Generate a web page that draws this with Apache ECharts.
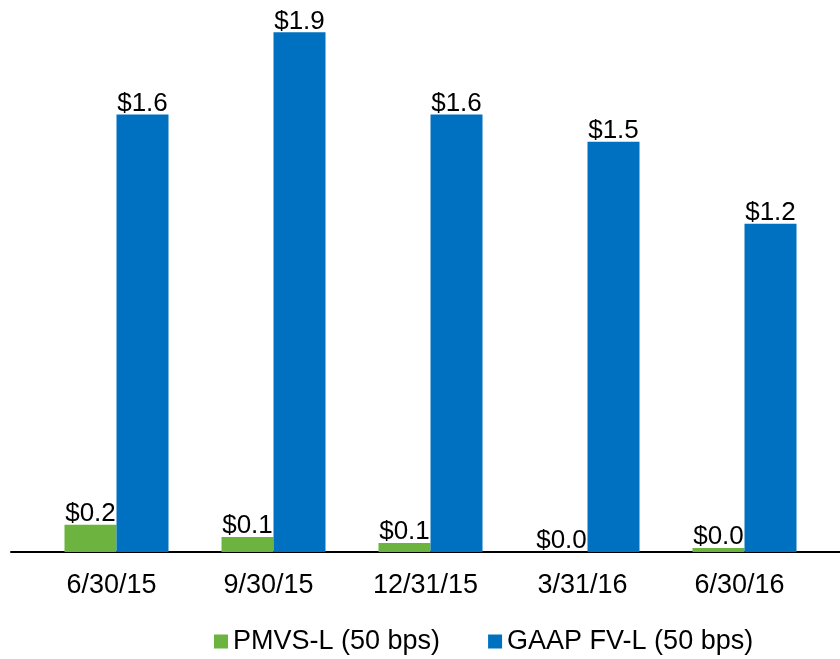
<!DOCTYPE html>
<html>
<head>
<meta charset="utf-8">
<script src="https://cdn.jsdelivr.net/npm/echarts@6/dist/echarts.min.js"></script>
<style>
  html, body { margin: 0; padding: 0; background: #fff; }
  #chart { width: 840px; height: 659px; }
</style>
</head>
<body>
<div id="chart"></div>
<script>
// categories / values
var periods = ["6/30/15", "9/30/15", "12/31/15", "3/31/16", "6/30/16"];
var pmvsValues = [0.10, 0.055, 0.033, 0, 0.015];
var gaapValues = [1.6, 1.9, 1.6, 1.5, 1.2];
// data labels as printed on the chart
var pmvsLabels = ["$0.2", "$0.1", "$0.1", "$0.0", "$0.0"];
var gaapLabels = ["$1.6", "$1.9", "$1.6", "$1.5", "$1.2"];

var font = "Liberation Sans, Arial, sans-serif";

var myChart = echarts.init(document.getElementById("chart"));

var labelStyle = {
  show: true,
  position: "top",
  distance: -2,
  color: "#000",
  fontSize: 26,
  fontFamily: font
};

var option = {
  animation: false,
  legend: {
    top: 628,
    left: 214,
    padding: 0,
    itemWidth: 14,
    itemHeight: 14,
    itemGap: 48,
    icon: "rect",
    textStyle: { color: "#000", fontSize: 27, fontFamily: font },
    data: ["PMVS-L (50 bps)", "GAAP FV-L (50 bps)"]
  },
  grid: [
    // bars
    { left: 38, right: 17, top: 5, bottom: 107 },
    // only for the long baseline
    { left: 11, right: 0, top: 5, bottom: 107 }
  ],
  xAxis: [
    {
      type: "category",
      gridIndex: 0,
      data: periods,
      axisLine: { show: false },
      axisTick: { show: false },
      axisLabel: {
        color: "#000",
        fontSize: 27,
        fontFamily: font,
        margin: 20,
        padding: [0, 10, 0, 0]
      }
    },
    {
      type: "value",
      gridIndex: 1,
      min: 0,
      max: 1,
      axisLine: { show: true, lineStyle: { color: "#000", width: 2 } },
      axisTick: { show: false },
      axisLabel: { show: false },
      splitLine: { show: false }
    }
  ],
  yAxis: [
    { type: "value", gridIndex: 0, min: 0, max: 2, show: false },
    { type: "value", gridIndex: 1, min: 0, max: 1, show: false }
  ],
  series: [
    {
      name: "PMVS-L (50 bps)",
      type: "bar",
      barWidth: 52,
      barGap: 0,
      itemStyle: { color: "#6DB33F" },
      label: Object.assign({}, labelStyle, {
        formatter: function (p) { return pmvsLabels[p.dataIndex]; }
      }),
      data: pmvsValues
    },
    {
      name: "GAAP FV-L (50 bps)",
      type: "bar",
      barWidth: 52,
      barGap: 0,
      itemStyle: { color: "#0070C0" },
      label: Object.assign({}, labelStyle, {
        formatter: function (p) { return gaapLabels[p.dataIndex]; }
      }),
      data: gaapValues
    }
  ]
};

myChart.setOption(option);
</script>
</body>
</html>
